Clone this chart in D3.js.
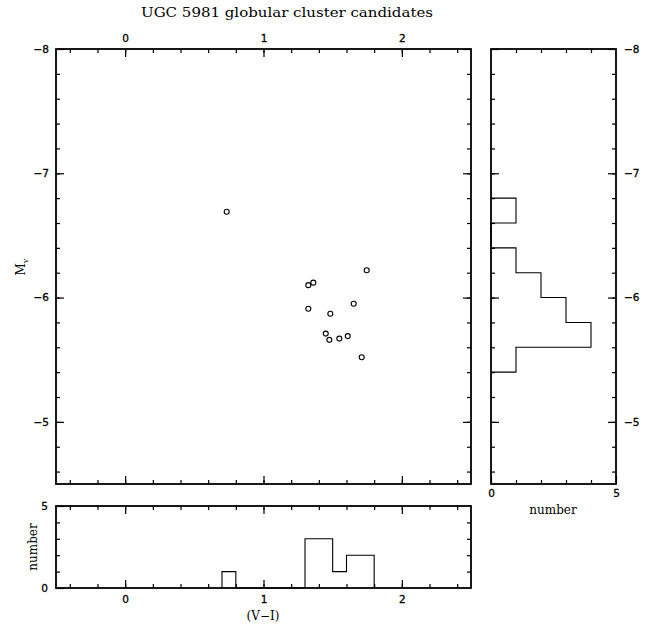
<!DOCTYPE html>
<html>
<head>
<meta charset="utf-8">
<script src="https://cdn.jsdelivr.net/npm/d3@7"></script>
<style>
body { margin: 0; background: #fff; }
svg text { fill: #000; }
.lab { font-family: "DejaVu Serif", serif; font-size: 12px; }
</style>
</head>
<body>
<div id="chart"></div>
<script>
// cluster candidates: (V-I) colour and M_V
var colours = [1.746, 1.324, 1.360, 1.652, 1.324, 1.483, 1.450, 1.476, 1.548, 1.609, 1.710, 0.734]
var mags    = [-6.22, -6.10, -6.12, -5.95, -5.91, -5.87, -5.71, -5.66, -5.67, -5.69, -5.52, -6.69]

// histogram of colour, bins of 0.1
var colourBins   = [0.7, 0.8, 0.9, 1.0, 1.1, 1.2, 1.3, 1.4, 1.5, 1.6, 1.7]
var colourCounts = [1,   0,   0,   0,   0,   0,   3,   3,   1,   2,   2]
// histogram of magnitude, bins of 0.2
var magBins   = [-6.8, -6.6, -6.4, -6.2, -6.0, -5.8, -5.6]
var magCounts = [1,    0,    1,    2,    3,    4,    1]

var xMajor = [0, 1, 2]
var yMajor = [-8, -7, -6, -5]

var svg = d3.select("#chart").append("svg")
    .attr("width", 658)
    .attr("height", 624)

var x = d3.scaleLinear().domain([-0.5, 2.5]).range([56, 471])
var y = d3.scaleLinear().domain([-8, -4.5]).range([49, 484])
var hx = d3.scaleLinear().domain([0, 5]).range([491, 616])
var hy = d3.scaleLinear().domain([0, 5]).range([588, 506])

var xMinor = d3.range(-0.4, 2.45, 0.2)
var yMinor = d3.range(-7.8, -4.55, 0.2)

var fmt = d3.format("d")
var none = function() { return "" }

function axis(gen, scale, pos, values, len, labels, pad) {
    var a = gen(scale).tickValues(values).tickSize(-len).tickPadding(pad || 5)
        .tickFormat(labels ? fmt : none)
    var g = svg.append("g")
        .attr("transform", pos)
        .call(a)
    g.select(".domain").remove()
    g.selectAll("line").attr("stroke", "#000").attr("stroke-width", 1.2)
    g.selectAll("text").attr("fill", "#000").attr("font-size", 10.5)
        .attr("font-family", "DejaVu Sans, sans-serif")
        .attr("stroke", "#000").attr("stroke-width", 0.3)
    return g
}

function box(x0, x1, y0, y1) {
    svg.append("rect")
        .attr("x", x0).attr("y", y0)
        .attr("width", x1 - x0).attr("height", y1 - y0)
        .attr("fill", "none")
        .attr("stroke", "#000")
        .attr("stroke-width", 1.8)
}

// step outline of a histogram, as pgplot draws it
function steps(bins, counts, width) {
    var pts = [[bins[0], 0]]
    bins.forEach(function(b, i) {
        pts.push([b, counts[i]])
        pts.push([b + width, counts[i]])
    })
    pts.push([bins[bins.length - 1] + width, 0])
    return pts
}

// ---- main panel
box(56, 471, 49, 484)
axis(d3.axisTop, x, "translate(0,49)", xMinor, 4, false)
axis(d3.axisTop, x, "translate(0,49)", xMajor, 8, true, 7)
axis(d3.axisBottom, x, "translate(0,484)", xMinor, 4, false)
axis(d3.axisBottom, x, "translate(0,484)", xMajor, 8, false)
axis(d3.axisLeft, y, "translate(56,0)", yMinor, 4, false)
axis(d3.axisLeft, y, "translate(56,0)", yMajor, 8, true, 7)
axis(d3.axisRight, y, "translate(471,0)", yMinor, 4, false)
axis(d3.axisRight, y, "translate(471,0)", yMajor, 8, false)

svg.append("g").selectAll("circle")
    .data(colours)
    .enter()
    .append("circle")
    .attr("cx", function(d) { return x(d) })
    .attr("cy", function(d, i) { return y(mags[i]) })
    .attr("r", 2.5)
    .attr("fill", "none")
    .attr("stroke", "#000")
    .attr("stroke-width", 1.1)

svg.append("text")
    .attr("class", "lab")
    .attr("x", 287).attr("y", 17)
    .attr("text-anchor", "middle")
    .attr("font-size", 14)
    .attr("textLength", 292)
    .attr("lengthAdjust", "spacingAndGlyphs")
    .text("UGC 5981 globular cluster candidates")

var mv = svg.append("text")
    .attr("class", "lab")
    .attr("transform", "translate(25,267) rotate(-90)")
    .attr("text-anchor", "middle")
    .attr("font-size", 11)
mv.append("tspan").text("M")
mv.append("tspan").attr("font-size", 8).attr("dy", 3).text("v")

// ---- right histogram (magnitude)
box(491, 616, 49, 484)
axis(d3.axisBottom, hx, "translate(0,484)", [1, 2, 3, 4], 4, false)
axis(d3.axisBottom, hx, "translate(0,484)", [0, 5], 8, true, 6)
axis(d3.axisTop, hx, "translate(0,49)", [1, 2, 3, 4], 4, false)
axis(d3.axisLeft, y, "translate(491,0)", yMinor, 4, false)
axis(d3.axisLeft, y, "translate(491,0)", yMajor, 8, false)
axis(d3.axisRight, y, "translate(616,0)", yMinor, 4, false)
axis(d3.axisRight, y, "translate(616,0)", yMajor, 8, true, 8)

var magLine = d3.line()
    .x(function(p) { return hx(p[1]) })
    .y(function(p) { return y(p[0]) })
svg.append("path").attr("d", magLine(steps(magBins, magCounts, 0.2)))
    .attr("fill", "none").attr("stroke", "#000").attr("stroke-width", 1.1)

svg.append("text")
    .attr("class", "lab")
    .attr("x", 553).attr("y", 514)
    .attr("text-anchor", "middle")
    .text("number")

// ---- bottom histogram (colour)
box(56, 471, 506, 588)
axis(d3.axisTop, x, "translate(0,506)", xMinor, 4, false)
axis(d3.axisTop, x, "translate(0,506)", xMajor, 8, false)
axis(d3.axisBottom, x, "translate(0,588)", xMinor, 4, false)
axis(d3.axisBottom, x, "translate(0,588)", xMajor, 8, true, 8)
axis(d3.axisLeft, hy, "translate(56,0)", [1, 2, 3, 4], 4, false)
axis(d3.axisLeft, hy, "translate(56,0)", [0, 5], 8, true, 8)
axis(d3.axisRight, hy, "translate(471,0)", [1, 2, 3, 4], 4, false)

var colLine = d3.line()
    .x(function(p) { return x(p[0]) })
    .y(function(p) { return hy(p[1]) })
svg.append("path").attr("d", colLine(steps(colourBins, colourCounts, 0.1)))
    .attr("fill", "none").attr("stroke", "#000").attr("stroke-width", 1.1)

svg.append("text")
    .attr("class", "lab")
    .attr("x", 263).attr("y", 620)
    .attr("text-anchor", "middle")
    .text("(V\u2212I)")

svg.append("text")
    .attr("class", "lab")
    .attr("transform", "translate(37,547) rotate(-90)")
    .attr("text-anchor", "middle")
    .text("number")
</script>
</body>
</html>
